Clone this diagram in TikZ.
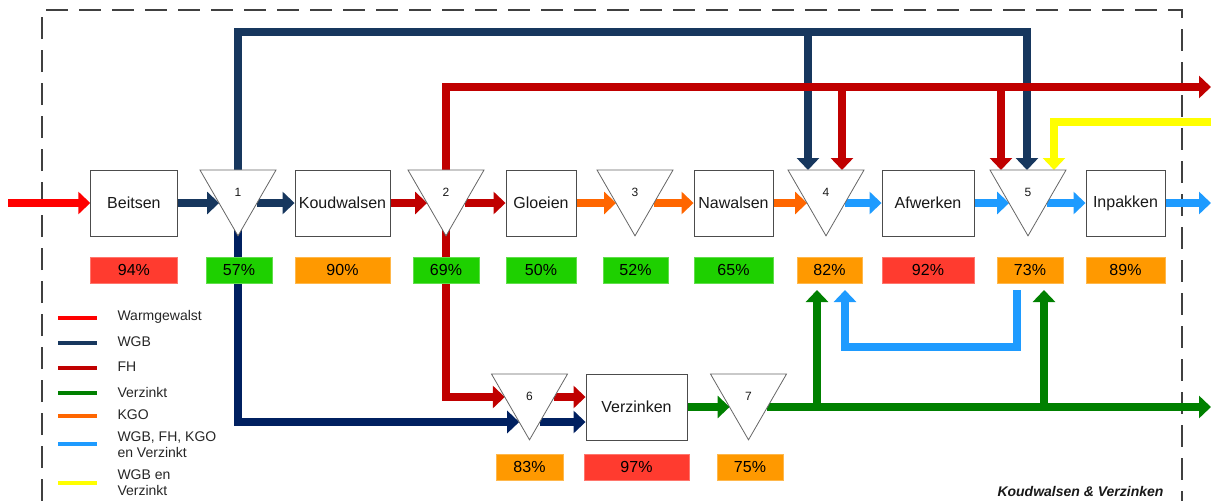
\documentclass[tikz,border=0pt]{standalone}
\usepackage{fontspec}
\setmainfont{Liberation Sans}
\usetikzlibrary{arrows.meta,calc,shapes.geometric,backgrounds}
\definecolor{cin}{HTML}{FF0000}
\definecolor{navy}{HTML}{17375E}
\definecolor{navyb}{HTML}{002060}
\definecolor{fh}{HTML}{C00000}
\definecolor{kgo}{HTML}{FF6600}
\definecolor{lblue}{HTML}{1E9BFF}
\definecolor{vz}{HTML}{008000}
\definecolor{yel}{HTML}{FFFF00}
\definecolor{pred}{HTML}{FF3B2F}
\definecolor{pgreen}{HTML}{1ED000}
\definecolor{porange}{HTML}{FF9900}
\begin{document}
\begin{tikzpicture}[x=1pt,y=-1pt,
  proc/.style={draw=black!70, fill=white, line width=0.9pt, minimum height=66pt, inner sep=0pt, font=\fontsize{16}{18}\selectfont, text=black!90},
  tri/.style={regular polygon, regular polygon sides=3, shape border rotate=180, draw=black!60, fill=white, line width=0.8pt, minimum size=87.8pt, inner sep=0pt, font=\fontsize{12}{14}\selectfont, text=black!90},
  pct/.style={minimum height=26pt, inner sep=0pt, font=\fontsize{16}{18}\selectfont, line width=0.6pt},
  pr/.style={pct, fill=pred, draw=pred!70!white},
  pg/.style={pct, fill=pgreen, draw=pgreen!70!white},
  po/.style={pct, fill=porange, draw=porange!70!white},
  flow/.style={line width=8pt, -{Triangle[width=22pt,length=12pt]}},
  band/.style={line width=8pt},
  leg/.style={line width=4.5pt},
  legtxt/.style={anchor=west, font=\fontsize{14}{16}\selectfont, text=black!85, align=left},
  frame/.style={draw=black!75, line width=1.3pt, dash pattern=on 22pt off 11pt}
]
\useasboundingbox (0,0) rectangle (1211,501);

% process boxes
\node[proc, minimum width=86.3pt] (beitsen) at (133.9,203) {Beitsen};
\node[proc, minimum width=95pt] (koud) at (342.5,203) {Koudwalsen};
\node[proc, minimum width=70pt] (gloei) at (541,203) {Gloeien};
\node[proc, minimum width=79pt] (nawal) at (733.5,203) {Nawalsen};
\node[proc, minimum width=92pt] (afwerk) at (928,203) {Afwerken};
\node[proc, minimum width=79pt] (inpak) at (1125.5,203) {Inpakken};
\node[proc, minimum width=101pt] (verz) at (636.5,407) {Verzinken};

% triangles
\node[tri] (t1) at (238,191.94) {1};
\node[tri] (t2) at (446,191.94) {2};
\node[tri] (t3) at (635,191.94) {3};
\node[tri] (t4) at (826,191.94) {4};
\node[tri] (t5) at (1028,191.94) {5};
\node[tri] (t6) at (529.5,395.94) {6};
\node[tri] (t7) at (748.5,395.94) {7};

% percentage boxes
\node[pr, minimum width=86.3pt] (p94) at (133.9,270) {94\%};
\node[pg, minimum width=66pt] (p57) at (239,270) {57\%};
\node[po, minimum width=95pt] (p90) at (342.5,270) {90\%};
\node[pg, minimum width=66pt] (p69) at (446,270) {69\%};
\node[pg, minimum width=70pt] (p50) at (541,270) {50\%};
\node[pg, minimum width=65pt] (p52) at (635.5,270) {52\%};
\node[pg, minimum width=79pt] (p65) at (733.5,270) {65\%};
\node[po, minimum width=65pt] (p82) at (829.5,270) {82\%};
\node[pr, minimum width=92pt] (p92) at (928,270) {92\%};
\node[po, minimum width=66pt] (p73) at (1030,270) {73\%};
\node[po, minimum width=79pt] (p89) at (1125.5,270) {89\%};
\node[po, minimum width=67pt] (p83) at (529.5,467) {83\%};
\node[pr, minimum width=105pt] (p97) at (636.5,467) {97\%};
\node[po, minimum width=66pt] (p75) at (750,467) {75\%};

% connection points on the triangles
\foreach \t in {t1,t2,t3,t4,t5,t7}{
  \coordinate (\t w) at ($(\t.center)+(-18.9,11.06)$);
  \coordinate (\t e) at ($(\t.center)+(18.9,11.06)$);
}
\coordinate (t6rw) at ($(t6.center)+(-24.7,1.06)$);
\coordinate (t6re) at ($(t6.center)+(24.7,1.06)$);
\coordinate (t6nw) at ($(t6.center)+(-10.3,26.06)$);
\coordinate (t6ne) at ($(t6.center)+(10.3,26.06)$);
\coordinate (t4a) at ($(t4.center)+(-18,-21.94)$);
\coordinate (t4b) at ($(t4.center)+(16,-21.94)$);
\coordinate (t5a) at ($(t5.center)+(-27,-21.94)$);
\coordinate (t5b) at ($(t5.center)+(-1,-21.94)$);
\coordinate (t5c) at ($(t5.center)+(26,-21.94)$);

% free ends and routing levels
\coordinate (instart) at (8,203);
\coordinate (outend) at (1211,203);
\coordinate (ntop) at (0,32);
\coordinate (redend) at (1211,87);
\coordinate (yelstart) at (1211,122);
\coordinate (gend) at (1211,407);
\coordinate (g1) at (817,290);
\coordinate (g2) at (1044,290);
\coordinate (lb1) at (1017,290);
\coordinate (lb2) at (845,290);
\coordinate (lby) at (0,347);

% legend
\foreach \c/\y in {cin/318, navy/343, fh/368, vz/393, kgo/416, lblue/444, yel/483}{
  \coordinate (l\y a) at (58,\y);
  \coordinate (l\y b) at (97,\y);
  \draw[leg, \c] (l\y a) -- (l\y b);
}
\node[legtxt] (lt1) at (114,317) {Warmgewalst};
\node[legtxt] (lt2) at (114,342) {WGB};
\node[legtxt] (lt3) at (114,367) {FH};
\node[legtxt] (lt4) at (114,392) {Verzinkt};
\node[legtxt] (lt5) at (114,415) {KGO};
\node[legtxt] (lt6) at (114,445) {WGB, FH, KGO\\en Verzinkt};
\node[legtxt] (lt7) at (114,483) {WGB en\\Verzinkt};

\node[anchor=east, font=\bfseries\itshape\fontsize{14}{16}\selectfont, text=black!90] (title) at (1167,491) {Koudwalsen \& Verzinken};

\begin{scope}[on background layer]
  \coordinate (fa) at (42,501);
  \coordinate (fb) at (42,10);
  \coordinate (fc) at (1182,10);
  \coordinate (fd) at (1182,501);
  \draw[frame] (fa) -- (fb) -- (fc) -- (fd);

  % main line
  \draw[flow, cin] (instart) -- (beitsen.west);
  \draw[flow, navy] (beitsen.east) -- (t1w);
  \draw[flow, navy] (t1e) -- (koud.west);
  \draw[flow, fh] (koud.east) -- (t2w);
  \draw[flow, fh] (t2e) -- (gloei.west);
  \draw[flow, kgo] (gloei.east) -- (t3w);
  \draw[flow, kgo] (t3e) -- (nawal.west);
  \draw[flow, kgo] (nawal.east) -- (t4w);
  \draw[flow, lblue] (t4e) -- (afwerk.west);
  \draw[flow, lblue] (afwerk.east) -- (t5w);
  \draw[flow, lblue] (t5e) -- (inpak.west);
  \draw[flow, lblue] (inpak.east) -- (outend);

  % top bypasses
  \draw[flow, navy] (t1.center) |- (t5b |- ntop) -- (t5b);
  \draw[flow, navy] (t4a |- ntop) -- (t4a);
  \draw[flow, fh] (t2.center) |- (redend);
  \draw[flow, fh] (t4b |- redend) -- (t4b);
  \draw[flow, fh] (t5a |- redend) -- (t5a);
  \draw[flow, yel] (yelstart) -| (t5c);

  % lower branch
  \draw[flow, navyb] (t1.center) |- (t6nw);
  \draw[flow, navyb] (t6ne) -- (t6ne -| verz.west);
  \draw[flow, fh] (t2.center) |- (t6rw);
  \draw[flow, fh] (t6re) -- (t6re -| verz.west);
  \draw[flow, vz] (verz.east) -- (t7w);
  \draw[flow, vz] (t7e) -- (gend);
  \draw[flow, vz] (g1 |- gend) -- (g1);
  \draw[flow, vz] (g2 |- gend) -- (g2);
  \draw[flow, lblue] (lb1) -- (lb1 |- lby) -- (lb2 |- lby) -- (lb2);
\end{scope}
\end{tikzpicture}
\end{document}
